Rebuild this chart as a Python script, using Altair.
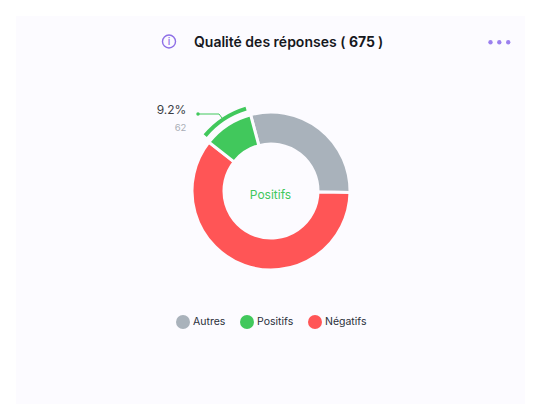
import altair as alt
import pandas as pd

categories = ["Autres", "Négatifs", "Positifs"]
values = [199, 407, 69]
legend_order = ["Autres", "Positifs", "Négatifs"]
legend_colors = ["#A9B2BB", "#41C85C", "#FF5556"]
highlight = "Positifs"
title_main = "Qualité des réponses ("
title_count = "675"
title_close = ")"
percent_label = "9.2%"
count_label = "62"
highlight_value = 62
total = sum(values)

starts, ends, acc = [], [], 0
for v in values:
    starts.append(acc)
    acc += v
    ends.append(acc)
df = pd.DataFrame({"cat": categories, "start": starts, "end": ends})
ring_start = starts[2] + (values[2] - highlight_value) / 2
ring_df = pd.DataFrame({"start": [ring_start], "end": [ring_start + highlight_value]})

CX, CY = 263, 183   # chart-space centre (page minus 8px margin)
PI = 3.14159265
rot = -15 * PI / 180
theta_scale = alt.Scale(domain=[0, total], range=[rot, rot + 2 * PI])
color_scale = alt.Scale(domain=legend_order, range=legend_colors)
CARD = "#FCFBFF"

def px(x): return alt.value(x - 8)

card = alt.Chart(pd.DataFrame({"a": [0]})).mark_rect(color=CARD).encode(
    x=px(16), x2=px(525), y=px(16), y2=px(404))

donut = alt.Chart(df).mark_arc(radius=79, radius2=47, stroke=CARD, strokeWidth=3).encode(
    theta=alt.Theta("start:Q", scale=theta_scale),
    theta2="end:Q",
    x=alt.value(CX), y=alt.value(CY),
    color=alt.Color("cat:N", scale=color_scale, legend=alt.Legend(
        title=None, orient="none", legendX=168, legendY=307, direction="horizontal",
        symbolType="circle", symbolSize=195, symbolStrokeWidth=0, columnPadding=14, labelFont="Inter",
        labelFontSize=10.5, labelColor="#2A2F3A", labelOffset=3, padding=0)),
)

ring = alt.Chart(ring_df).mark_arc(radius=88, radius2=84, color=legend_colors[1]).encode(
    theta=alt.Theta("start:Q", scale=theta_scale),
    theta2="end:Q",
    x=alt.value(CX), y=alt.value(CY),
)

one = pd.DataFrame({"a": [0]})
def label(text, x, y, size, color, weight=400, align="center"):
    return alt.Chart(one).mark_text(text=text, font="Inter", fontSize=size, color=color, fontWeight=weight,
                                    align=align, baseline="middle").encode(x=px(x), y=px(y))

green = legend_colors[1]
purple = "#8E6FE6"
leader1 = alt.Chart(one).mark_rule(color=green, strokeWidth=1).encode(x=px(198), x2=px(219), y=px(114))
leader2 = alt.Chart(one).mark_rule(color=green, strokeWidth=1).encode(x=px(219), x2=px(222), y=px(114), y2=px(118))
dot = alt.Chart(one).mark_circle(color=green, size=12, opacity=1).encode(x=px(198), y=px(114))
icon = alt.Chart(one).mark_point(shape="circle", filled=False, color=purple, size=170, strokeWidth=1.4, opacity=1).encode(x=px(169), y=px(41.5))

dots = [alt.Chart(one).mark_circle(color="#9B80EE", size=19, opacity=1).encode(x=px(x), y=px(42.3)) for x in (490.5, 499.3, 508.2)]

chart = alt.layer(
    card, donut, ring, leader1, leader2, dot, icon, *dots,
    label("i", 169, 42, 10, purple, 500),
    label(title_main, 194, 42.5, 14, "#16181D", 600, "left"),
    label(title_count, 349, 42.5, 14, "#16181D", 700, "left"),
    label(title_close, 378, 42.5, 14, "#16181D", 600, "left"),
    label(percent_label, 171.5, 110, 12, "#3B3F46"),
    label(count_label, 180.5, 128, 9.5, "#A9AEB6"),
    label(highlight, 270.5, 195, 12, green),
).properties(width=526, height=396, padding=0, autosize=alt.AutoSizeParams(type="none"), background="white").configure_view(stroke=None)

chart.save("out.html", embed_options={"renderer": "svg", "actions": False})
